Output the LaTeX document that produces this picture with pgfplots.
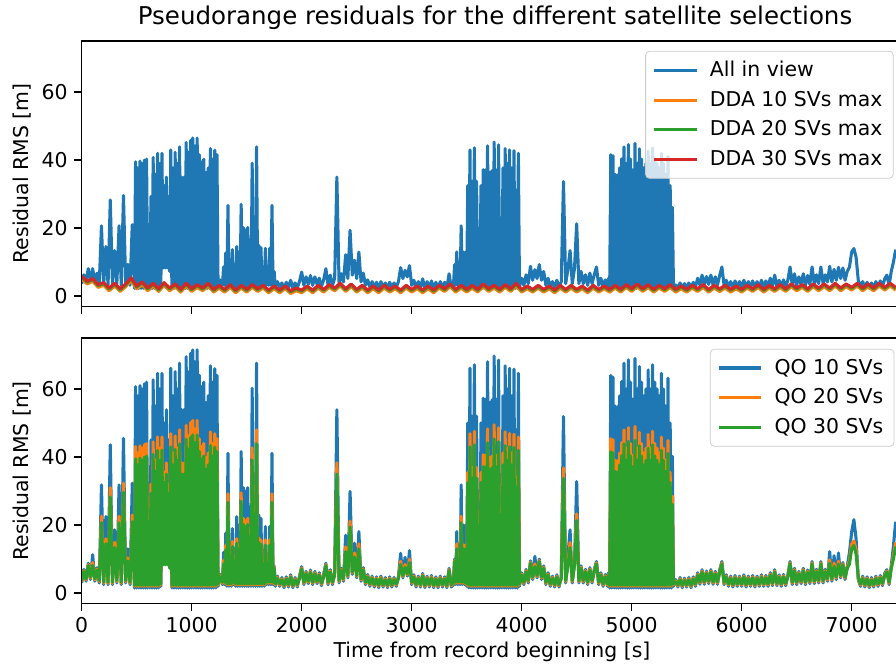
\documentclass[border=0pt]{standalone}
\usepackage{fontspec}
\setmainfont{DejaVu Sans}
\usepackage{pgfplots}
\usepackage{pgfplotstable}
\pgfplotsset{compat=1.18}

\definecolor{c0}{HTML}{1F77B4}
\definecolor{c1}{HTML}{FF7F0E}
\definecolor{c2}{HTML}{2CA02C}
\definecolor{c3}{HTML}{D62728}

% QO residuals (q30 also gives the all-in-view trace, which matches it)
\pgfplotstableread{
t q10 q20 q30
0 3.0 3.4 3.7
20 7.0 6.6 6.3
40 3.5 3.9 4.2
60 8.8 8.4 8.1
80 4.0 4.4 4.7
100 11.3 9.0 8.1
120 3.5 3.9 4.2
140 7.5 7.1 6.8
160 3.0 3.4 3.7
180 31.8 22.6 20.7
200 2.5 2.9 3.2
220 22.5 16.0 14.6
240 2.5 2.9 3.2
260 43.6 31.0 28.3
280 2.5 2.9 3.2
300 18.6 14.9 13.4
320 3.0 3.4 3.7
340 31.8 22.6 20.7
360 2.5 2.9 3.2
380 45.5 32.3 29.6
400 3.0 3.4 3.7
420 13.0 10.4 9.4
440 2.5 2.9 3.2
460 32.3 22.9 21.0
480 1.5 2.0 2.3
490 60.7 43.1 39.5
500 1.5 2.0 2.3
510 58.0 41.2 37.7
520 1.5 2.0 2.3
530 61.0 43.3 39.7
540 1.5 2.0 2.3
550 60.0 42.6 39.0
560 1.5 2.0 2.3
570 61.5 43.7 40.0
580 1.5 2.0 2.3
590 62.0 44.0 40.3
600 1.5 2.0 2.3
610 32.3 22.9 21.0
620 1.5 2.0 2.3
630 45.0 32.0 29.3
640 1.5 2.0 2.3
650 62.7 44.5 40.8
660 1.5 2.0 2.3
670 55.0 39.1 35.8
680 1.5 2.0 2.3
690 64.6 45.9 42.0
700 1.5 2.0 2.3
710 60.0 42.6 39.0
720 2.0 2.4 2.7
730 64.6 45.9 42.0
740 9.0 8.6 8.3
750 50.0 35.5 32.5
760 9.0 8.6 8.3
770 53.9 38.3 35.0
780 9.0 8.6 8.3
790 45.0 32.0 29.3
800 8.0 7.6 7.3
810 66.1 46.9 43.0
820 1.5 2.0 2.3
830 58.0 41.2 37.7
840 1.5 2.0 2.3
850 65.1 46.2 42.3
860 1.5 2.0 2.3
870 60.0 42.6 39.0
880 1.5 2.0 2.3
890 67.6 48.0 43.9
900 1.5 2.0 2.3
910 53.9 38.3 35.0
920 1.5 2.0 2.3
930 53.9 38.3 35.0
940 1.5 2.0 2.3
950 69.5 49.3 45.2
960 1.5 2.0 2.3
970 65.0 46.2 42.3
980 1.5 2.0 2.3
990 70.5 50.1 45.8
1000 1.5 2.0 2.3
1010 71.5 50.8 46.5
1020 1.5 2.0 2.3
1030 68.0 48.3 44.2
1040 1.5 2.0 2.3
1050 71.5 50.8 46.5
1060 1.5 2.0 2.3
1070 64.0 45.4 41.6
1080 1.5 2.0 2.3
1090 60.7 43.1 39.5
1100 1.5 2.0 2.3
1110 62.0 44.0 40.3
1120 1.5 2.0 2.3
1130 56.0 39.8 36.4
1140 1.5 2.0 2.3
1150 58.0 41.2 37.7
1160 1.5 2.0 2.3
1170 66.8 47.4 43.4
1180 1.5 2.0 2.3
1190 62.0 44.0 40.3
1200 1.5 2.0 2.3
1210 66.0 46.9 42.9
1220 1.5 2.0 2.3
1230 64.0 45.4 41.6
1240 2.0 2.4 2.7
1260 5.5 5.1 4.8
1280 2.5 2.9 3.2
1290 12.0 9.6 8.6
1300 2.5 2.9 3.2
1310 17.6 14.1 12.7
1320 2.0 2.4 2.7
1330 41.1 29.2 26.7
1340 2.0 2.4 2.7
1350 15.0 12.0 10.8
1360 2.0 2.4 2.7
1370 19.0 15.2 13.7
1380 2.5 2.9 3.2
1390 10.0 9.6 9.3
1400 2.0 2.4 2.7
1410 22.5 16.0 14.6
1420 2.0 2.4 2.7
1430 20.0 14.2 13.0
1440 2.0 2.4 2.7
1450 41.6 29.5 27.0
1460 2.0 2.4 2.7
1470 31.0 22.0 20.2
1480 2.0 2.4 2.7
1490 30.0 21.3 19.5
1500 2.0 2.4 2.7
1510 31.0 22.0 20.2
1520 2.0 2.4 2.7
1530 25.0 17.8 16.3
1540 2.0 2.4 2.7
1550 60.2 42.7 39.1
1560 2.0 2.4 2.7
1570 23.0 16.3 15.0
1580 2.0 2.4 2.7
1590 67.6 48.0 43.9
1600 2.0 2.4 2.7
1610 23.0 16.3 15.0
1620 2.0 2.4 2.7
1630 22.0 15.6 14.3
1640 2.0 2.4 2.7
1650 12.0 9.6 8.6
1660 2.0 2.4 2.7
1670 19.6 15.7 14.1
1680 2.5 2.9 3.2
1690 8.0 7.6 7.3
1700 2.5 2.9 3.2
1710 19.6 15.7 14.1
1720 2.5 2.9 3.2
1730 41.1 29.2 26.7
1740 2.5 2.9 3.2
1750 8.0 7.6 7.3
1760 2.0 2.4 2.7
1780 5.0 4.6 4.3
1800 2.0 2.4 2.7
1820 4.6 4.2 3.9
1840 1.6 2.0 2.3
1860 4.8 4.4 4.1
1880 1.8 2.2 2.5
1900 5.4 5.0 4.7
1920 1.6 2.0 2.3
1940 4.6 4.2 3.9
1960 1.8 2.2 2.5
1980 5.0 4.6 4.3
2000 7.8 7.4 7.1
2020 2.5 2.9 3.2
2040 6.4 6.0 5.7
2060 2.8 3.2 3.5
2080 6.8 6.4 6.1
2100 2.5 2.9 3.2
2120 6.4 6.0 5.7
2140 2.8 3.2 3.5
2160 6.0 5.6 5.3
2180 2.2 2.6 2.9
2200 5.5 5.1 4.8
2220 8.8 8.4 8.1
2240 2.5 2.9 3.2
2260 6.9 6.5 6.2
2280 2.5 2.9 3.2
2300 6.0 5.6 5.3
2320 53.9 38.3 35.0
2340 3.0 3.4 3.7
2360 7.3 6.9 6.6
2380 3.5 3.9 4.2
2400 17.0 13.6 12.2
2420 4.5 4.9 5.2
2440 29.9 21.2 19.4
2460 5.5 5.9 6.2
2480 14.7 11.8 10.6
2500 4.5 4.9 5.2
2520 18.1 14.5 13.0
2540 3.5 3.9 4.2
2560 7.5 7.1 6.8
2580 2.5 2.9 3.2
2600 5.5 5.1 4.8
2620 2.0 2.4 2.7
2640 5.0 4.6 4.3
2660 1.8 2.2 2.5
2680 4.8 4.4 4.1
2700 1.6 2.0 2.3
2720 5.0 4.6 4.3
2740 1.8 2.2 2.5
2760 4.6 4.2 3.9
2780 1.6 2.0 2.3
2800 4.8 4.4 4.1
2820 1.8 2.2 2.5
2840 4.6 4.2 3.9
2860 2.0 2.4 2.7
2880 5.0 4.6 4.3
2900 11.7 9.4 8.4
2920 4.5 4.9 5.2
2940 10.5 8.4 7.6
2960 5.0 5.4 5.7
2980 12.5 10.0 9.0
3000 2.5 2.9 3.2
3020 5.4 5.0 4.7
3040 1.8 2.2 2.5
3060 5.0 4.6 4.3
3080 1.8 2.2 2.5
3100 5.8 5.4 5.1
3120 1.6 2.0 2.3
3140 5.0 4.6 4.3
3160 1.8 2.2 2.5
3180 5.2 4.8 4.5
3200 1.6 2.0 2.3
3220 4.8 4.4 4.1
3240 1.6 2.0 2.3
3260 5.0 4.6 4.3
3280 1.8 2.2 2.5
3300 4.8 4.4 4.1
3320 1.6 2.0 2.3
3340 7.3 6.9 6.6
3360 1.8 2.2 2.5
3380 2.5 2.9 3.2
3390 10.0 9.6 9.3
3400 2.5 2.9 3.2
3410 18.1 14.5 13.0
3420 2.5 2.9 3.2
3430 12.0 9.6 8.6
3440 2.5 2.9 3.2
3450 31.8 22.6 20.7
3460 2.5 2.9 3.2
3470 20.0 14.2 13.0
3480 2.5 2.9 3.2
3490 20.0 14.2 13.0
3500 2.0 2.4 2.7
3510 50.0 35.5 32.5
3520 1.5 2.0 2.3
3530 66.1 46.9 43.0
3540 1.5 2.0 2.3
3550 52.0 36.9 33.8
3560 1.5 2.0 2.3
3570 67.1 47.6 43.6
3580 1.5 2.0 2.3
3590 52.0 36.9 33.8
3600 1.5 2.0 2.3
3610 29.4 20.9 19.1
3620 1.5 2.0 2.3
3630 50.0 35.5 32.5
3640 1.5 2.0 2.3
3650 57.3 40.7 37.2
3660 1.5 2.0 2.3
3670 57.0 40.5 37.1
3680 1.5 2.0 2.3
3690 68.0 48.3 44.2
3700 1.5 2.0 2.3
3710 56.0 39.8 36.4
3720 1.5 2.0 2.3
3730 56.8 40.3 36.9
3740 1.5 2.0 2.3
3750 69.7 49.5 45.3
3760 1.5 2.0 2.3
3770 57.0 40.5 37.1
3780 1.5 2.0 2.3
3790 68.5 48.6 44.5
3800 1.5 2.0 2.3
3810 32.3 22.9 21.0
3820 1.5 2.0 2.3
3830 58.0 41.2 37.7
3840 1.5 2.0 2.3
3850 66.8 47.4 43.4
3860 1.5 2.0 2.3
3870 60.0 42.6 39.0
3880 1.5 2.0 2.3
3890 66.1 46.9 43.0
3900 1.5 2.0 2.3
3910 58.0 41.2 37.7
3920 1.5 2.0 2.3
3930 65.8 46.7 42.8
3940 1.5 2.0 2.3
3950 48.0 34.1 31.2
3960 1.5 2.0 2.3
3970 64.6 45.9 42.0
3980 2.0 2.4 2.7
4000 6.0 5.6 5.3
4020 2.5 2.9 3.2
4040 7.0 6.6 6.3
4060 3.0 3.4 3.7
4080 9.5 9.1 8.8
4100 4.0 4.4 4.7
4120 10.8 8.6 7.8
4140 4.5 4.9 5.2
4160 10.0 9.6 9.3
4180 4.0 4.4 4.7
4200 8.0 7.6 7.3
4220 2.5 2.9 3.2
4240 6.0 5.6 5.3
4260 2.0 2.4 2.7
4280 5.0 4.6 4.3
4300 1.8 2.2 2.5
4320 5.4 5.0 4.7
4340 1.8 2.2 2.5
4360 5.0 4.6 4.3
4380 51.9 36.8 33.7
4400 3.0 3.4 3.7
4420 10.8 8.6 7.8
4440 18.6 14.9 13.4
4460 3.0 3.4 3.7
4480 8.8 8.4 8.1
4500 32.8 23.3 21.3
4520 3.0 3.4 3.7
4540 8.0 7.6 7.3
4560 3.0 3.4 3.7
4580 7.0 6.6 6.3
4600 2.5 2.9 3.2
4620 7.5 7.1 6.8
4640 3.0 3.4 3.7
4660 7.0 6.6 6.3
4680 9.3 8.9 8.6
4700 2.5 2.9 3.2
4720 6.0 5.6 5.3
4740 2.0 2.4 2.7
4760 5.5 5.1 4.8
4780 2.0 2.4 2.7
4790 6.0 5.6 5.3
4800 1.5 2.0 2.3
4810 64.0 45.4 41.6
4820 1.5 2.0 2.3
4830 63.5 45.1 41.3
4840 1.5 2.0 2.3
4850 55.0 39.1 35.8
4860 1.5 2.0 2.3
4870 54.8 38.9 35.6
4880 1.5 2.0 2.3
4890 58.0 41.2 37.7
4900 1.5 2.0 2.3
4910 62.2 44.2 40.4
4920 1.5 2.0 2.3
4930 67.6 48.0 43.9
4940 1.5 2.0 2.3
4950 60.0 42.6 39.0
4960 1.5 2.0 2.3
4970 68.6 48.7 44.6
4980 1.5 2.0 2.3
4990 62.0 44.0 40.3
5000 1.5 2.0 2.3
5010 57.0 40.5 37.1
5020 1.5 2.0 2.3
5030 69.0 49.0 44.9
5040 1.5 2.0 2.3
5050 60.0 42.6 39.0
5060 1.5 2.0 2.3
5070 66.6 47.3 43.3
5080 1.5 2.0 2.3
5090 62.0 44.0 40.3
5100 1.5 2.0 2.3
5110 58.0 41.2 37.7
5120 1.5 2.0 2.3
5130 60.0 42.6 39.0
5140 1.5 2.0 2.3
5150 65.6 46.6 42.6
5160 1.5 2.0 2.3
5170 60.0 42.6 39.0
5180 1.5 2.0 2.3
5190 67.1 47.6 43.6
5200 1.5 2.0 2.3
5210 62.0 44.0 40.3
5220 1.5 2.0 2.3
5230 60.0 42.6 39.0
5240 1.5 2.0 2.3
5250 58.0 41.2 37.7
5260 1.5 2.0 2.3
5270 64.6 45.9 42.0
5280 1.5 2.0 2.3
5290 60.0 42.6 39.0
5300 1.5 2.0 2.3
5310 55.0 39.1 35.8
5320 1.5 2.0 2.3
5330 63.2 44.9 41.1
5340 1.5 2.0 2.3
5350 50.0 35.5 32.5
5360 1.5 2.0 2.3
5370 40.2 28.5 26.1
5380 2.0 2.4 2.7
5400 4.0 3.6 3.3
5420 1.8 2.2 2.5
5440 4.6 4.2 3.9
5460 1.6 2.0 2.3
5480 4.4 4.0 3.7
5500 1.8 2.2 2.5
5520 4.6 4.2 3.9
5540 1.6 2.0 2.3
5560 4.8 4.4 4.1
5580 2.0 2.4 2.7
5600 6.0 5.6 5.3
5620 2.6 3.0 3.3
5640 6.9 6.5 6.2
5660 2.6 3.0 3.3
5680 6.5 6.1 5.8
5700 2.8 3.2 3.5
5720 6.9 6.5 6.2
5740 2.6 3.0 3.3
5760 6.4 6.0 5.7
5780 2.6 3.0 3.3
5800 6.8 6.4 6.1
5820 9.3 8.9 8.6
5840 2.5 2.9 3.2
5860 5.4 5.0 4.7
5880 2.0 2.4 2.7
5900 5.0 4.6 4.3
5920 1.8 2.2 2.5
5940 5.2 4.8 4.5
5960 2.0 2.4 2.7
5980 5.0 4.6 4.3
6000 2.0 2.4 2.7
6020 5.4 5.0 4.7
6040 1.8 2.2 2.5
6060 5.0 4.6 4.3
6080 2.0 2.4 2.7
6100 5.2 4.8 4.5
6120 1.8 2.2 2.5
6140 5.0 4.6 4.3
6160 2.0 2.4 2.7
6180 5.4 5.0 4.7
6200 2.0 2.4 2.7
6220 5.2 4.8 4.5
6240 2.0 2.4 2.7
6260 6.0 5.6 5.3
6280 2.2 2.6 2.9
6300 6.9 6.5 6.2
6320 2.2 2.6 2.9
6340 5.4 5.0 4.7
6360 2.0 2.4 2.7
6380 5.5 5.1 4.8
6400 2.2 2.6 2.9
6420 5.4 5.0 4.7
6440 9.3 8.9 8.6
6460 2.5 2.9 3.2
6480 7.3 6.9 6.6
6500 2.5 2.9 3.2
6520 6.4 6.0 5.7
6540 2.8 3.2 3.5
6560 7.3 6.9 6.6
6580 2.5 2.9 3.2
6600 6.8 6.4 6.1
6620 2.8 3.2 3.5
6640 9.3 8.9 8.6
6660 2.8 3.2 3.5
6680 7.0 6.6 6.3
6700 3.0 3.4 3.7
6720 9.3 8.9 8.6
6740 3.0 3.4 3.7
6760 7.0 6.6 6.3
6780 3.5 3.9 4.2
6800 12.2 9.8 8.8
6820 3.5 3.9 4.2
6840 11.0 8.8 7.9
6860 4.0 4.4 4.7
6880 11.8 9.4 8.5
6900 4.5 4.9 5.2
6920 9.0 8.6 8.3
6940 4.0 4.4 4.7
6960 8.0 7.6 7.3
6980 12.0 9.6 8.6
7000 18.0 14.4 13.0
7020 21.6 15.3 14.0
7040 16.0 12.8 11.5
7060 4.0 4.4 4.7
7080 2.0 2.4 2.7
7100 5.0 4.6 4.3
7120 1.8 2.2 2.5
7140 4.8 4.4 4.1
7160 1.6 2.0 2.3
7180 4.6 4.2 3.9
7200 1.8 2.2 2.5
7220 5.0 4.6 4.3
7240 2.0 2.4 2.7
7260 5.2 4.8 4.5
7280 2.2 2.6 2.9
7300 5.8 5.4 5.1
7320 6.9 6.5 6.2
7340 2.5 2.9 3.2
7360 8.0 7.6 7.3
7380 14.0 11.2 10.1
7400 21.0 14.9 13.7
}\qo

% DDA residuals
\pgfplotstableread{
t d10 d20 d30
0 5.1 5.6 5.9
50 3.6 4.1 4.4
100 4.4 4.9 5.2
150 2.6 3.1 3.4
200 3.2 3.7 4.0
250 1.6 2.1 2.4
300 3.0 3.5 3.8
350 1.4 1.9 2.2
400 2.8 3.3 3.6
450 4.6 5.1 5.4
500 2.2 2.7 3.0
550 3.4 3.9 4.2
600 1.6 2.1 2.4
650 3.0 3.5 3.8
700 1.4 1.9 2.2
750 3.2 3.7 4.0
800 1.6 2.1 2.4
850 2.8 3.3 3.6
900 1.2 1.7 2.0
950 3.0 3.5 3.8
1000 1.4 1.9 2.2
1050 2.6 3.1 3.4
1100 1.6 2.1 2.4
1150 3.0 3.5 3.8
1200 1.2 1.7 2.0
1250 2.4 2.9 3.2
1300 1.2 1.7 2.0
1350 2.6 3.1 3.4
1400 1.0 1.5 1.8
1450 2.4 2.9 3.2
1500 1.2 1.7 2.0
1550 2.6 3.1 3.4
1600 1.4 1.9 2.2
1650 2.4 2.9 3.2
1700 1.0 1.5 1.8
1750 2.2 2.7 3.0
1800 1.0 1.5 1.8
1850 2.2 2.7 3.0
1900 0.8 1.3 1.6
1950 1.6 2.1 2.4
2000 1.0 1.5 1.8
2050 2.2 2.7 3.0
2100 1.0 1.5 1.8
2150 2.4 2.9 3.2
2200 1.2 1.7 2.0
2250 2.6 3.1 3.4
2300 1.6 2.1 2.4
2350 3.0 3.5 3.8
2400 1.4 1.9 2.2
2450 2.8 3.3 3.6
2500 1.2 1.7 2.0
2550 2.4 2.9 3.2
2600 1.0 1.5 1.8
2650 2.2 2.7 3.0
2700 1.0 1.5 1.8
2750 2.4 2.9 3.2
2800 1.2 1.7 2.0
2850 2.2 2.7 3.0
2900 1.0 1.5 1.8
2950 2.4 2.9 3.2
3000 1.2 1.7 2.0
3050 2.2 2.7 3.0
3100 1.0 1.5 1.8
3150 2.2 2.7 3.0
3200 1.0 1.5 1.8
3250 2.4 2.9 3.2
3300 1.4 1.9 2.2
3350 2.8 3.3 3.6
3400 1.2 1.7 2.0
3450 2.4 2.9 3.2
3500 1.2 1.7 2.0
3550 2.4 2.9 3.2
3600 1.2 1.7 2.0
3650 2.8 3.3 3.6
3700 1.4 1.9 2.2
3750 2.4 2.9 3.2
3800 1.2 1.7 2.0
3850 2.6 3.1 3.4
3900 1.4 1.9 2.2
3950 3.0 3.5 3.8
4000 1.2 1.7 2.0
4050 2.2 2.7 3.0
4100 1.2 1.7 2.0
4150 2.4 2.9 3.2
4200 1.2 1.7 2.0
4250 2.2 2.7 3.0
4300 1.0 1.5 1.8
4350 2.4 2.9 3.2
4400 1.2 1.7 2.0
4450 2.4 2.9 3.2
4500 1.2 1.7 2.0
4550 2.2 2.7 3.0
4600 1.0 1.5 1.8
4650 2.4 2.9 3.2
4700 1.2 1.7 2.0
4750 2.2 2.7 3.0
4800 1.2 1.7 2.0
4850 2.4 2.9 3.2
4900 1.2 1.7 2.0
4950 2.6 3.1 3.4
5000 1.4 1.9 2.2
5050 2.8 3.3 3.6
5100 1.4 1.9 2.2
5150 2.6 3.1 3.4
5200 1.2 1.7 2.0
5250 2.4 2.9 3.2
5300 1.4 1.9 2.2
5350 2.6 3.1 3.4
5400 1.2 1.7 2.0
5450 2.2 2.7 3.0
5500 1.2 1.7 2.0
5550 2.4 2.9 3.2
5600 1.4 1.9 2.2
5650 2.6 3.1 3.4
5700 1.2 1.7 2.0
5750 2.4 2.9 3.2
5800 1.4 1.9 2.2
5850 2.4 2.9 3.2
5900 1.2 1.7 2.0
5950 2.2 2.7 3.0
6000 1.2 1.7 2.0
6050 2.4 2.9 3.2
6100 1.4 1.9 2.2
6150 2.6 3.1 3.4
6200 1.2 1.7 2.0
6250 2.4 2.9 3.2
6300 1.4 1.9 2.2
6350 2.6 3.1 3.4
6400 1.4 1.9 2.2
6450 2.8 3.3 3.6
6500 1.6 2.1 2.4
6550 2.6 3.1 3.4
6600 1.4 1.9 2.2
6650 2.8 3.3 3.6
6700 1.6 2.1 2.4
6750 2.8 3.3 3.6
6800 1.6 2.1 2.4
6850 3.0 3.5 3.8
6900 1.6 2.1 2.4
6950 2.8 3.3 3.6
7000 1.8 2.3 2.6
7050 3.0 3.5 3.8
7100 1.6 2.1 2.4
7150 2.8 3.3 3.6
7200 1.6 2.1 2.4
7250 3.0 3.5 3.8
7300 1.8 2.3 2.6
7350 3.0 3.5 3.8
7400 1.8 2.3 2.6
}\dda

\pgfplotsset{
  resid/.style={
    scale only axis, width=418.8pt, height=136.5pt,
    xmin=0, xmax=7403, ymin=-3, ymax=75,
    xtick={0,1000,...,7000}, ytick={0,20,40,60},
    axis line style={draw=none},
    tick align=outside, xtick pos=left, ytick pos=left,
    major tick length=3.7pt,
    every tick/.style={black, line width=0.84pt},
    tick label style={font=\fontsize{10.5}{12.6}\selectfont},
    /pgf/number format/assume math mode=true,
    /pgf/number format/1000 sep={},
    scaled ticks=false,
    legend cell align=left,
    legend style={anchor=north east, draw=black!20, rounded corners=2pt,
      fill=white, fill opacity=0.8, text opacity=1,
      font=\fontsize{10.5}{12.6}\selectfont,
      inner xsep=3.5pt, inner ysep=3pt, row sep=2pt},
    legend image code/.code={\draw[##1] (0pt,0pt) -- (22pt,0pt); \path (26pt,0pt);},
    every axis plot/.append style={line width=1.575pt, line join=round},
  },
}

\begin{document}
\begin{tikzpicture}
\begin{axis}[resid, name=top, at={(0,0)}, anchor=north west,
    xticklabels={},
    legend style={at={(rel axis cs:0.997,0.963)}}]
\addplot[c0] table[x=t, y=q30] {\qo};
\addplot[c1] table[x=t, y=d10] {\dda};
\addplot[c2] table[x=t, y=d20] {\dda};
\addplot[c3] table[x=t, y=d30] {\dda};
\legend{All in view, DDA 10 SVs max, DDA 20 SVs max, DDA 30 SVs max}
\end{axis}

\begin{axis}[resid, name=bot, at={(0,-152.7pt)}, anchor=north west,
    legend style={at={(rel axis cs:0.998,0.959)}}]
\addplot[c0] table[x=t, y=q10] {\qo};
\addplot[c1] table[x=t, y=q20] {\qo};
\addplot[c2] table[x=t, y=q30] {\qo};
\legend{QO 10 SVs, QO 20 SVs, QO 30 SVs}
\end{axis}

\draw[line width=0.84pt] (top.south east) -- (top.south west) -- (top.north west) -- (top.north east);
\draw[line width=0.84pt] (bot.south east) -- (bot.south west) -- (bot.north west) -- (bot.north east);

\node[font=\fontsize{12.6}{15}\selectfont] at (212.6pt,11.8pt) {Pseudorange residuals for the different satellite selections};
\node[font=\fontsize{10.5}{12.6}\selectfont] at (211pt,-314.2pt) {Time from record beginning [s]};
\node[font=\fontsize{10.5}{12.6}\selectfont, rotate=90] at (-30.7pt,-68.1pt) {Residual RMS [m]};
\node[font=\fontsize{10.5}{12.6}\selectfont, rotate=90] at (-30.7pt,-221.1pt) {Residual RMS [m]};

\pgfresetboundingbox
\path[use as bounding box] (-42.0pt,21.1pt) rectangle (418.8pt,-321.9pt);
\end{tikzpicture}
\end{document}
